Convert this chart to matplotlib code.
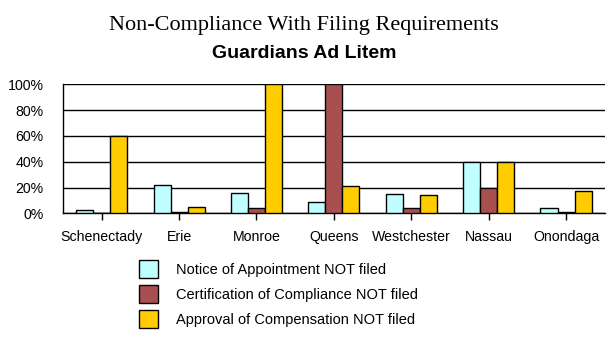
import numpy as np
import matplotlib
matplotlib.use("Agg")
import matplotlib.pyplot as plt
from matplotlib.ticker import FuncFormatter

counties = ["Schenectady", "Erie", "Monroe", "Queens", "Westchester", "Nassau", "Onondaga"]
notice = [3, 22, 16, 9, 15, 40, 4]
certification = [0, 1, 4, 100, 4, 20, 1]
approval = [60, 5, 100, 21, 14, 40, 17]

labels = ["Notice of Appointment NOT filed",
          "Certification of Compliance NOT filed",
          "Approval of Compensation NOT filed"]
colors = ["#C0FFFF", "#A8504F", "#FFCC00"]

plt.rcParams["font.family"] = ["Liberation Sans", "DejaVu Sans"]

fig = plt.figure(figsize=(6.08, 3.42), dpi=100)
ax = fig.add_axes([0.1036, 0.376, 0.891, 0.3775])

x = np.arange(len(counties))
w = 0.22
for i, (vals, lab, col) in enumerate(zip([notice, certification, approval], labels, colors)):
    ax.bar(x + (i - 1) * w, vals, w, color=col, edgecolor="black", linewidth=1.0,
           label=lab, zorder=3)

ax.set_xlim(-0.5, len(counties) - 0.5)
ax.set_ylim(0, 100)
ax.set_yticks(range(0, 101, 20))
ax.yaxis.set_major_formatter(FuncFormatter(lambda v, p: f"{v:.0f}%"))
ax.set_xticks(x)
ax.set_xticklabels(counties)
ax.tick_params(axis="both", labelsize=10.2, colors="black")
ax.tick_params(axis="x", length=5, width=1, pad=7)
ax.tick_params(axis="y", length=0, pad=14)
ax.yaxis.grid(True, color="black", linewidth=1.0, zorder=0)
for s in ["top", "right"]:
    ax.spines[s].set_visible(False)
ax.spines["left"].set_linewidth(1.0)
ax.spines["bottom"].set_linewidth(1.0)

fig.text(0.5, 0.925, "Non-Compliance With Filing Requirements", ha="center", va="center",
         fontsize=16, family="Liberation Serif")
fig.text(0.5, 0.845, "Guardians Ad Litem", ha="center", va="center",
         fontsize=14, fontweight="bold")

fig.legend(loc="upper left", bbox_to_anchor=(0.228, 0.24), frameon=False,
           fontsize=10.5, handlelength=1.3, handleheight=1.5, handletextpad=1.25,
           labelspacing=0.5, borderaxespad=0, borderpad=0)

fig.savefig("out.png", dpi=100)
